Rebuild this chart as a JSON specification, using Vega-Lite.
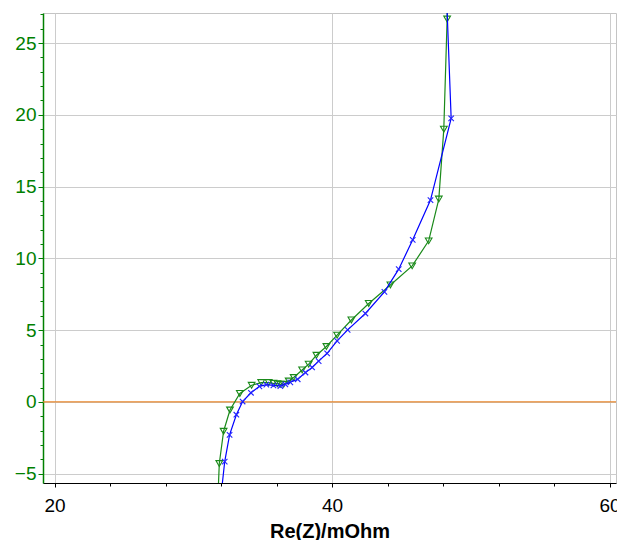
{
  "$schema": "https://vega.github.io/schema/vega-lite/v6.json",
  "autosize": {"type": "none"},
  "padding": {"left": 43, "top": 13, "right": 1, "bottom": 57},
  "width": 573,
  "height": 470,
  "background": "white",
  "config": {"view": {"stroke": "#c4c4c4", "strokeWidth": 1}, "font": "Liberation Sans"},
  "datasets": {
    "green": [
      {"i": 0, "x": 31.79, "y": -6.2},
      {"i": 1, "x": 31.87, "y": -4.29},
      {"i": 2, "x": 32.18, "y": -2.04},
      {"i": 3, "x": 32.64, "y": -0.56},
      {"i": 4, "x": 33.35, "y": 0.59},
      {"i": 5, "x": 34.2, "y": 1.16},
      {"i": 6, "x": 34.89, "y": 1.35},
      {"i": 7, "x": 35.43, "y": 1.35},
      {"i": 8, "x": 35.77, "y": 1.3},
      {"i": 9, "x": 36.06, "y": 1.27},
      {"i": 10, "x": 36.27, "y": 1.23},
      {"i": 11, "x": 36.51, "y": 1.23},
      {"i": 12, "x": 36.87, "y": 1.46},
      {"i": 13, "x": 37.23, "y": 1.7},
      {"i": 14, "x": 37.84, "y": 2.23},
      {"i": 15, "x": 38.31, "y": 2.63},
      {"i": 16, "x": 38.87, "y": 3.25},
      {"i": 17, "x": 39.59, "y": 3.86},
      {"i": 18, "x": 40.36, "y": 4.65},
      {"i": 19, "x": 41.39, "y": 5.71},
      {"i": 20, "x": 42.64, "y": 6.86},
      {"i": 21, "x": 44.2, "y": 8.15},
      {"i": 22, "x": 45.77, "y": 9.48},
      {"i": 23, "x": 46.96, "y": 11.22},
      {"i": 24, "x": 47.69, "y": 14.13},
      {"i": 25, "x": 48.05, "y": 19.0},
      {"i": 26, "x": 48.29, "y": 26.67},
      {"i": 27, "x": 48.35, "y": 30.0}
    ],
    "blue": [
      {"i": 0, "x": 32.03, "y": -6.2},
      {"i": 1, "x": 32.26, "y": -4.15},
      {"i": 2, "x": 32.61, "y": -2.29},
      {"i": 3, "x": 33.1, "y": -0.89},
      {"i": 4, "x": 33.55, "y": 0.03},
      {"i": 5, "x": 34.15, "y": 0.64},
      {"i": 6, "x": 34.76, "y": 1.09},
      {"i": 7, "x": 35.26, "y": 1.2},
      {"i": 8, "x": 35.77, "y": 1.16},
      {"i": 9, "x": 36.27, "y": 1.11},
      {"i": 10, "x": 36.63, "y": 1.23},
      {"i": 11, "x": 36.99, "y": 1.37},
      {"i": 12, "x": 37.52, "y": 1.58},
      {"i": 13, "x": 38.08, "y": 2.05},
      {"i": 14, "x": 38.56, "y": 2.4},
      {"i": 15, "x": 39.03, "y": 2.84},
      {"i": 16, "x": 39.64, "y": 3.39},
      {"i": 17, "x": 40.36, "y": 4.25},
      {"i": 18, "x": 41.12, "y": 5.02},
      {"i": 19, "x": 42.4, "y": 6.16},
      {"i": 20, "x": 43.77, "y": 7.67},
      {"i": 21, "x": 44.8, "y": 9.25},
      {"i": 22, "x": 45.81, "y": 11.29},
      {"i": 23, "x": 47.09, "y": 14.06},
      {"i": 24, "x": 48.58, "y": 19.75},
      {"i": 25, "x": 48.18, "y": 30.0}
    ],
    "zero": [
      {"i": 0, "x": 19.164, "y": 0},
      {"i": 1, "x": 60.46, "y": 0}
    ]
  },
  "encoding": {
    "x": {
      "field": "x",
      "type": "quantitative",
      "scale": {"domain": [19.164, 60.46], "nice": false, "zero": false},
      "axis": {
        "title": "Re(Z)/mOhm",
        "titleFont": "Liberation Sans",
        "titleFontSize": 20,
        "titleFontWeight": "bold",
        "titleColor": "#000000",
        "titlePadding": 6,
        "values": [20, 24, 28, 32, 36, 40, 44, 48, 52, 56, 60],
        "labelExpr": "datum.value % 20 === 0 ? datum.label : ''",
        "labelFont": "Liberation Sans",
        "labelFontSize": 19,
        "labelColor": "#000000",
        "labelPadding": 9,
        "labelFlush": false,
        "labelOverlap": false,
        "domainColor": "#000000",
        "domainWidth": 1,
        "tickColor": "#000000",
        "tickSize": {"condition": {"test": "datum.value % 20 === 0", "value": 4}, "value": 3},
        "grid": true,
        "gridColor": "#cccccc",
        "gridWidth": 1,
        "gridOpacity": {"condition": {"test": "datum.value % 20 === 0", "value": 1}, "value": 0}
      }
    },
    "y": {
      "field": "y",
      "type": "quantitative",
      "scale": {"domain": [-5.645, 27.09], "nice": false, "zero": false},
      "axis": {
        "title": null,
        "values": [-5, -4, -3, -2, -1, 0, 1, 2, 3, 4, 5, 6, 7, 8, 9, 10, 11, 12, 13, 14, 15, 16, 17, 18, 19, 20, 21, 22, 23, 24, 25, 26, 27],
        "labelExpr": "datum.value % 5 === 0 ? datum.label : ''",
        "labelFont": "Liberation Sans",
        "labelFontSize": 19,
        "labelColor": "#008000",
        "labelPadding": 2,
        "labelFlush": false,
        "labelOverlap": false,
        "domainColor": "#008000",
        "domainWidth": 1.5,
        "tickColor": "#008000",
        "tickSize": {"condition": {"test": "datum.value % 5 === 0", "value": 5}, "value": 3},
        "grid": true,
        "gridColor": "#cccccc",
        "gridWidth": 1,
        "gridOpacity": {"condition": {"test": "datum.value % 5 === 0", "value": 1}, "value": 0}
      }
    },
    "order": {"field": "i", "type": "quantitative"}
  },
  "layer": [
    {
      "data": {"name": "zero"},
      "mark": {"type": "line", "color": "#e8872c", "strokeWidth": 1.3, "clip": true}
    },
    {
      "data": {"name": "green"},
      "mark": {"type": "line", "color": "#1a8a1a", "strokeWidth": 1.2, "clip": true}
    },
    {
      "data": {"name": "green"},
      "mark": {"type": "point", "shape": "triangle-down", "filled": false, "color": "#1a8a1a", "size": 45, "strokeWidth": 1.1, "opacity": 1, "clip": true}
    },
    {
      "data": {"name": "blue"},
      "mark": {"type": "line", "color": "#0000ff", "strokeWidth": 1.2, "clip": true}
    },
    {
      "data": {"name": "blue"},
      "mark": {"type": "point", "shape": "M-1,-1L1,1M-1,1L1,-1", "filled": false, "color": "#2222ff", "size": 30, "strokeWidth": 1.1, "opacity": 1, "clip": true}
    }
  ]
}
